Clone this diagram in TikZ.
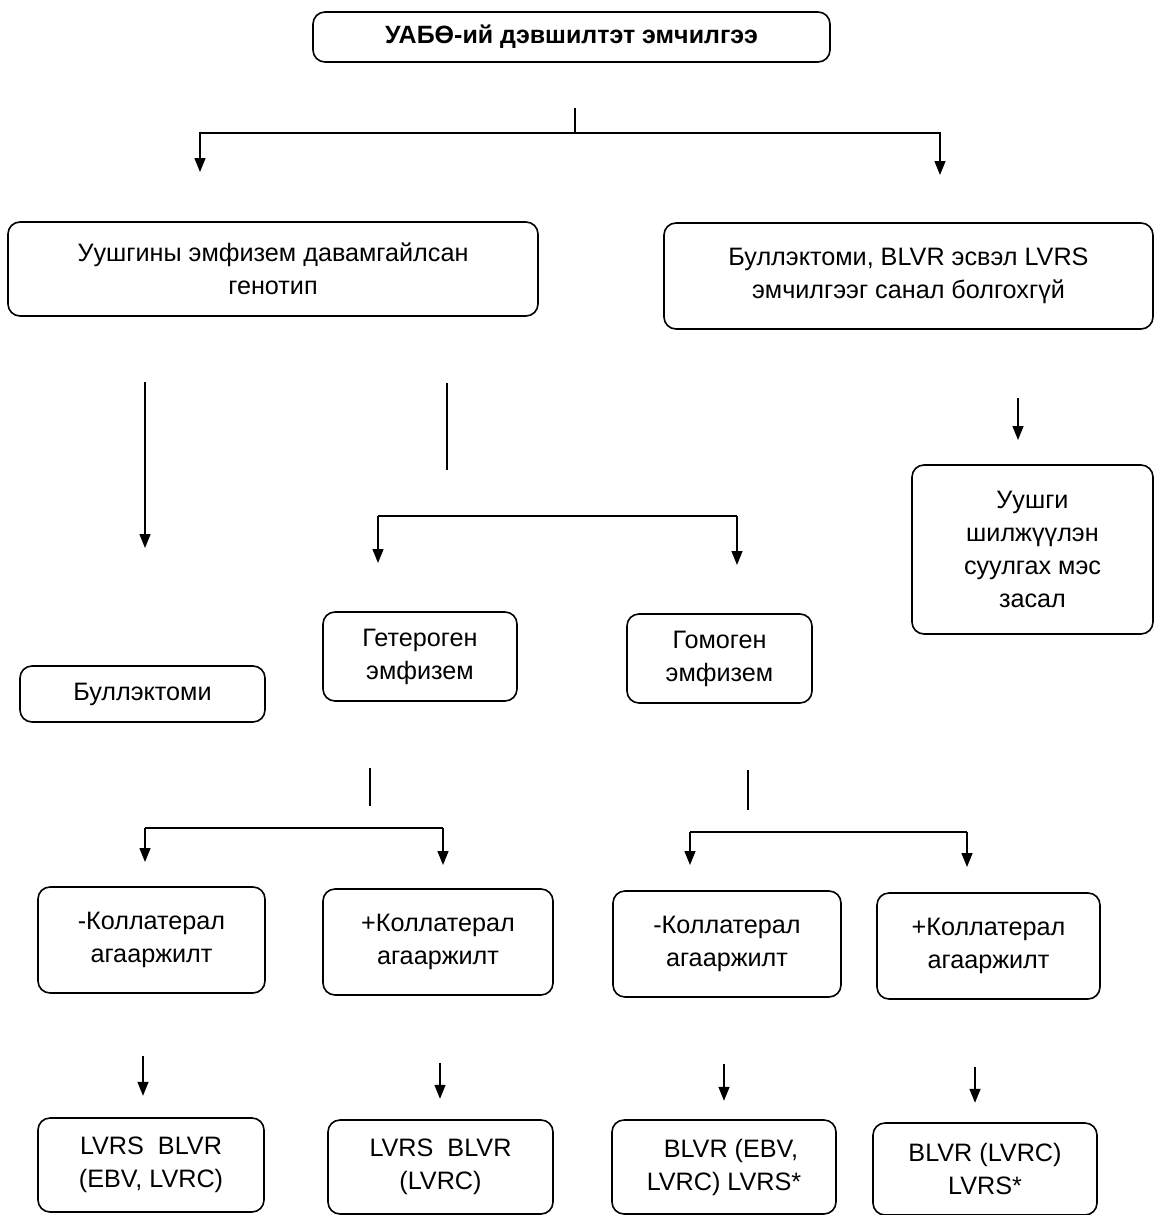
\documentclass[tikz,border=0pt]{standalone}
\usepackage{fontspec}
\setmainfont{Liberation Sans}
\usetikzlibrary{arrows.meta}

\begin{document}
\begin{tikzpicture}[x=1pt,y=-1pt,
  box/.style={draw,line width=1.6pt,rounded corners=12pt,align=center,inner sep=0pt,
    font=\fontsize{25.2}{33}\selectfont},
  ln/.style={line width=1.4pt},
  arr/.style={ln,-{Triangle[length=14pt,width=11pt]}}]
\useasboundingbox (0,0) rectangle (1155,1215);

\node[box,minimum width=517pt,minimum height=50pt,font=\fontsize{25}{30}\selectfont\bfseries] (top) at (571.5,37) {УАБӨ-ий дэвшилтэт эмчилгээ};

\node[box,minimum width=530pt,minimum height=94pt] (geno) at (273,269) {Уушгины эмфизем давамгайлсан\\генотип};
\node[box,minimum width=489pt,minimum height=106pt] (nobl) at (908.5,276) {Буллэктоми, BLVR эсвэл LVRS\\эмчилгээг санал болгохгүй};
\node[box,minimum width=241pt,minimum height=169pt] (transp) at (1032.5,549.5) {Уушги\\шилжүүлэн\\суулгах мэс\\засал};

\node[box,minimum width=245pt,minimum height=56pt] (bull) at (142.5,694) {Буллэктоми};
\node[box,minimum width=194pt,minimum height=89pt] (hetero) at (420,656.5) {Гетероген\\эмфизем};
\node[box,minimum width=185pt,minimum height=89pt] (homo) at (719.5,658.5) {Гомоген\\эмфизем};

\node[box,minimum width=227pt,minimum height=106pt] (hetminus) at (151.5,940) {-Коллатерал\\агааржилт};
\node[box,minimum width=230pt,minimum height=106pt] (hetplus) at (438,942) {+Коллатерал\\агааржилт};
\node[box,minimum width=228pt,minimum height=106pt] (homminus) at (727,944) {-Коллатерал\\агааржилт};
\node[box,minimum width=223pt,minimum height=106pt] (homplus) at (988.5,946) {+Коллатерал\\агааржилт};

\node[box,minimum width=226pt,minimum height=94pt] (res1) at (151,1165) {LVRS\ \ BLVR\\(EBV, LVRC)};
\node[box,minimum width=225pt,minimum height=94pt] (res2) at (440.5,1167) {LVRS\ \ BLVR\\(LVRC)};
\node[box,minimum width=224pt,minimum height=94pt] (res3) at (724,1167) {\ \ BLVR (EBV,\\LVRC) LVRS*};
\node[box,minimum width=224pt,minimum height=92pt] (res4) at (985,1169) {BLVR (LVRC)\\LVRS*};

\coordinate (s0) at (575,108);
\coordinate (b0) at (575,133);
\coordinate (b0l) at (200,172);
\coordinate (b0r) at (940,175);
\draw[ln] (s0) -- (b0);
\draw[arr] (b0) -| (b0l);
\draw[arr] (b0) -| (b0r);

\coordinate (g1) at (145,382);
\coordinate (g1e) at (145,548);
\draw[arr] (g1) -- (g1e);
\coordinate (g2) at (447,383);
\coordinate (g2e) at (447,470);
\draw[ln] (g2) -- (g2e);
\coordinate (h1l) at (378,516);
\coordinate (h1r) at (737,516);
\draw[ln] (h1l) -- (h1r);
\draw[arr] (h1l) -- (378,563);
\draw[arr] (h1r) -- (737,565);

\coordinate (n1) at (1018,398);
\draw[arr] (n1) -- (1018,440);

\coordinate (t1) at (370,768);
\draw[ln] (t1) -- (370,806);
\coordinate (h2l) at (145,828);
\coordinate (h2r) at (443,828);
\draw[ln] (h2l) -- (h2r);
\draw[arr] (h2l) -- (145,862);
\draw[arr] (h2r) -- (443,865);

\coordinate (t2) at (748,770);
\draw[ln] (t2) -- (748,810);
\coordinate (h3l) at (690,832);
\coordinate (h3r) at (967,832);
\draw[ln] (h3l) -- (h3r);
\draw[arr] (h3l) -- (690,865);
\draw[arr] (h3r) -- (967,867);

\draw[arr] (hetminus.south -| 143,0) ++(0,62) -- ++(0,40);
\draw[arr] (hetplus.south -| 440,0) ++(0,67) -- ++(0,36);
\draw[arr] (homminus.south -| 724,0) ++(0,66) -- ++(0,37);
\draw[arr] (homplus.south -| 975,0) ++(0,67) -- ++(0,36);
\end{tikzpicture}
\end{document}
